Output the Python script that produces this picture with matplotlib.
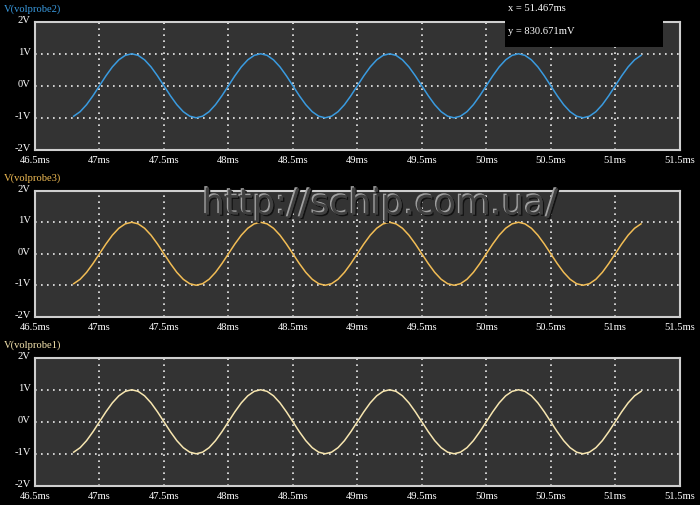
import matplotlib.pyplot as plt
import matplotlib.patheffects as pe
import numpy as np

volprobe2 = [
    -0.95, -0.81, -0.59, -0.31, 0.00, 0.31, 0.59, 0.81, 0.95, 1.00,
    0.95, 0.81, 0.59, 0.31, 0.00, -0.31, -0.59, -0.81, -0.95, -1.00,
    -0.95, -0.81, -0.59, -0.31, 0.00, 0.31, 0.59, 0.81, 0.95, 1.00,
    0.95, 0.81, 0.59, 0.31, 0.00, -0.31, -0.59, -0.81, -0.95, -1.00,
    -0.95, -0.81, -0.59, -0.31, 0.00, 0.31, 0.59, 0.81, 0.95, 1.00,
    0.95, 0.81, 0.59, 0.31, 0.00, -0.31, -0.59, -0.81, -0.95, -1.00,
    -0.95, -0.81, -0.59, -0.31, 0.00, 0.31, 0.59, 0.81, 0.95, 1.00,
    0.95, 0.81, 0.59, 0.31, 0.00, -0.31, -0.59, -0.81, -0.95, -1.00,
    -0.95, -0.81, -0.59, -0.31, 0.00, 0.31, 0.59, 0.81, 0.95,
]
volprobe3 = [
    -0.95, -0.81, -0.59, -0.31, 0.00, 0.31, 0.59, 0.81, 0.95, 1.00,
    0.95, 0.81, 0.59, 0.31, 0.00, -0.31, -0.59, -0.81, -0.95, -1.00,
    -0.95, -0.81, -0.59, -0.31, 0.00, 0.31, 0.59, 0.81, 0.95, 1.00,
    0.95, 0.81, 0.59, 0.31, 0.00, -0.31, -0.59, -0.81, -0.95, -1.00,
    -0.95, -0.81, -0.59, -0.31, 0.00, 0.31, 0.59, 0.81, 0.95, 1.00,
    0.95, 0.81, 0.59, 0.31, 0.00, -0.31, -0.59, -0.81, -0.95, -1.00,
    -0.95, -0.81, -0.59, -0.31, 0.00, 0.31, 0.59, 0.81, 0.95, 1.00,
    0.95, 0.81, 0.59, 0.31, 0.00, -0.31, -0.59, -0.81, -0.95, -1.00,
    -0.95, -0.81, -0.59, -0.31, 0.00, 0.31, 0.59, 0.81, 0.95,
]
volprobe1 = [
    -0.95, -0.81, -0.59, -0.31, 0.00, 0.31, 0.59, 0.81, 0.95, 1.00,
    0.95, 0.81, 0.59, 0.31, 0.00, -0.31, -0.59, -0.81, -0.95, -1.00,
    -0.95, -0.81, -0.59, -0.31, 0.00, 0.31, 0.59, 0.81, 0.95, 1.00,
    0.95, 0.81, 0.59, 0.31, 0.00, -0.31, -0.59, -0.81, -0.95, -1.00,
    -0.95, -0.81, -0.59, -0.31, 0.00, 0.31, 0.59, 0.81, 0.95, 1.00,
    0.95, 0.81, 0.59, 0.31, 0.00, -0.31, -0.59, -0.81, -0.95, -1.00,
    -0.95, -0.81, -0.59, -0.31, 0.00, 0.31, 0.59, 0.81, 0.95, 1.00,
    0.95, 0.81, 0.59, 0.31, 0.00, -0.31, -0.59, -0.81, -0.95, -1.00,
    -0.95, -0.81, -0.59, -0.31, 0.00, 0.31, 0.59, 0.81, 0.95,
]
t_start, t_end = 46.8, 51.2
time_ms = np.linspace(t_start, t_end, len(volprobe2))

x_ticks = [46.5, 47, 47.5, 48, 48.5, 49, 49.5, 50, 50.5, 51, 51.5]
x_labels = ['46.5ms', '47ms', '47.5ms', '48ms', '48.5ms', '49ms',
            '49.5ms', '50ms', '50.5ms', '51ms', '51.5ms']
y_ticks = [-2, -1, 0, 1, 2]
y_labels = ['-2V', '-1V', '0V', '1V', '2V']

panels = [
    ('V(volprobe2)', volprobe2, '#3a9be0'),
    ('V(volprobe3)', volprobe3, '#f2bd55'),
    ('V(volprobe1)', volprobe1, '#f7e6b0'),
]

serif = ['Liberation Serif', 'DejaVu Serif']
fs = 7.6

fig = plt.figure(figsize=(7, 5.06), dpi=100, facecolor='black')

# axes boxes in figure fractions (left, bottom, width, height)
boxes = [
    (0.050, 0.702, 0.921, 0.253),
    (0.050, 0.372, 0.921, 0.249),
    (0.050, 0.038, 0.921, 0.253),
]

for (title, vals, color), box in zip(panels, boxes):
    ax = fig.add_axes(box)
    ax.set_facecolor('#333333')
    ax.plot(time_ms, vals, color=color, lw=1.1, zorder=3)
    ax.set_xlim(46.5, 51.5)
    ax.set_ylim(-2, 2)
    ax.set_xticks(x_ticks)
    ax.set_xticklabels(x_labels)
    ax.set_yticks(y_ticks)
    ax.set_yticklabels(y_labels)
    ax.tick_params(length=0, colors='white', labelsize=fs, pad=3)
    ax.tick_params(axis='x', pad=4)
    for lab in ax.get_xticklabels() + ax.get_yticklabels():
        lab.set_family(serif)
    for lab in ax.get_yticklabels():
        lab.set_verticalalignment('baseline')
    ax.grid(True, color='white', linestyle=(0, (1, 2.6)), lw=1.2, alpha=0.9)
    for sp in ax.spines.values():
        sp.set_color('#cfcfcf')
        sp.set_linewidth(1.5)
    fig.text(0.005, box[1] + box[3] + 0.018, title, color=color,
             fontsize=fs, family=serif, va='bottom', ha='left')

# cursor readout box
fig.patches.append(plt.Rectangle((0.721, 0.905), 0.226, 0.095,
                                 transform=fig.transFigure,
                                 facecolor='black', edgecolor='none', zorder=10))
fig.text(0.725, 0.984, 'x = 51.467ms', color='white', fontsize=fs,
         family=serif, va='center', zorder=11)
fig.text(0.725, 0.937, 'y = 830.671mV', color='white', fontsize=fs,
         family=serif, va='center', zorder=11)

# embossed watermark
fig.text(0.543, 0.594, 'http://schip.com.ua/', color='#404040', fontsize=25.5,
         family=['DejaVu Sans'],
         ha='center', va='center', zorder=12,
         path_effects=[pe.withSimplePatchShadow(offset=(1, -1), shadow_rgbFace='#121212', alpha=1),
                       pe.withSimplePatchShadow(offset=(-1, 1), shadow_rgbFace='#a0a0a0', alpha=1)])

fig.savefig('out.png', dpi=100, facecolor='black')
